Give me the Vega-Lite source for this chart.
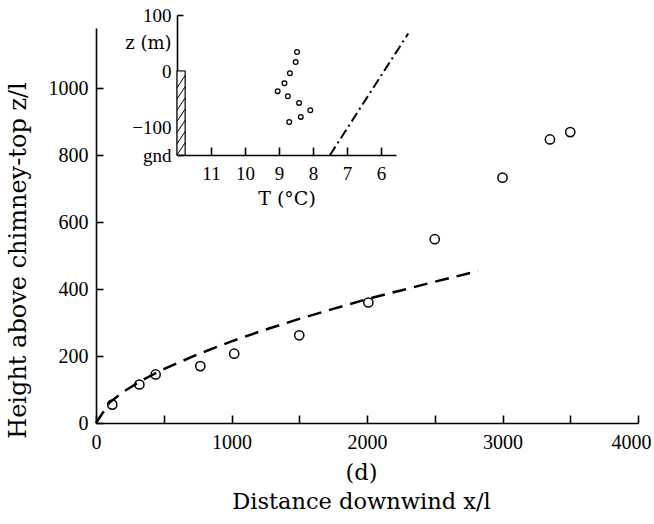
{
  "$schema": "https://vega.github.io/schema/vega-lite/v6.json",
  "width": 542,
  "height": 395,
  "autosize": "none",
  "padding": {"left": 96, "top": 28, "right": 16, "bottom": 101},
  "background": "white",
  "config": {
    "view": {"stroke": null},
    "axis": {
      "grid": false,
      "labelFont": "Liberation Serif",
      "titleFont": "DejaVu Serif",
      "labelColor": "black",
      "titleColor": "black",
      "domainColor": "black",
      "tickColor": "black",
      "titleFontWeight": "normal",
      "domainWidth": 1.6,
      "tickWidth": 1.6
    }
  },
  "datasets": {
    "obs": [
      {"x": 120, "z": 55},
      {"x": 320, "z": 115},
      {"x": 440, "z": 145},
      {"x": 770, "z": 170},
      {"x": 1020, "z": 207},
      {"x": 1500, "z": 262},
      {"x": 2010, "z": 360},
      {"x": 2500, "z": 549},
      {"x": 3000, "z": 733},
      {"x": 3350, "z": 847},
      {"x": 3500, "z": 869}
    ],
    "fit": [
      {"x": 0, "z": 0},
      {"x": 100, "z": 61},
      {"x": 200, "z": 93},
      {"x": 350, "z": 130},
      {"x": 500, "z": 161},
      {"x": 750, "z": 205},
      {"x": 1000, "z": 244},
      {"x": 1250, "z": 279},
      {"x": 1500, "z": 311},
      {"x": 1750, "z": 341},
      {"x": 2000, "z": 370},
      {"x": 2250, "z": 396},
      {"x": 2500, "z": 422},
      {"x": 2820, "z": 454}
    ],
    "profile": [
      {"T": 8.47, "z": 34},
      {"T": 8.51, "z": 16},
      {"T": 8.68, "z": -4},
      {"T": 8.84, "z": -22},
      {"T": 9.04, "z": -36},
      {"T": 8.74, "z": -45},
      {"T": 8.41, "z": -57},
      {"T": 8.08, "z": -70},
      {"T": 8.36, "z": -82},
      {"T": 8.7, "z": -91}
    ],
    "adiabat": [
      {"T": 7.5, "z": -150},
      {"T": 5.2, "z": 67}
    ],
    "chimney": [
      {"T": 12, "T2": 11.76, "z": -150, "z2": 0}
    ],
    "hatch": [
      {"T": 12, "T2": 11.76, "z": -150, "z2": -128},
      {"T": 12, "T2": 11.76, "z": -130, "z2": -108},
      {"T": 12, "T2": 11.76, "z": -110, "z2": -88},
      {"T": 12, "T2": 11.76, "z": -90, "z2": -68},
      {"T": 12, "T2": 11.76, "z": -70, "z2": -48},
      {"T": 12, "T2": 11.76, "z": -50, "z2": -28},
      {"T": 12, "T2": 11.76, "z": -30, "z2": -8}
    ]
  },
  "layer": [
    {
      "layer": [
        {
          "data": {"name": "fit"},
          "mark": {"type": "line", "color": "black", "strokeWidth": 2.5, "strokeDash": [14, 8]},
          "encoding": {
            "x": {"field": "x", "type": "quantitative", "scale": {"domain": [0, 4000], "nice": false, "zero": false}},
            "y": {"field": "z", "type": "quantitative", "scale": {"domain": [0, 1180], "nice": false, "zero": false}}
          }
        },
        {
          "data": {"name": "obs"},
          "mark": {"type": "point", "shape": "circle", "filled": false, "color": "black", "size": 85, "strokeWidth": 1.5, "opacity": 1},
          "encoding": {
            "x": {
              "field": "x", "type": "quantitative",
              "scale": {"domain": [0, 4000], "nice": false, "zero": false},
              "axis": {
                "orient": "bottom",
                "values": [0, 500, 1000, 1500, 2000, 2500, 3000, 3500, 4000],
                "format": "d",
                "labelExpr": "datum.value % 1000 == 0 ? datum.label : ''",
                "labelOffset": {"condition": {"test": "datum.value == 4000", "value": -7}, "value": 0},
                "tickSize": -8,
                "labelPadding": 17,
                "labelFontSize": 20,
                "labelFlush": false,
                "title": ["(d)", "Distance downwind x/l"],
                "titleFontSize": 22.5,
                "titleLineHeight": 29,
                "titleX": 265,
                "titleY": 38,
                "titleAlign": "center",
                "titleBaseline": "top"
              }
            },
            "y": {
              "field": "z", "type": "quantitative",
              "scale": {"domain": [0, 1180], "nice": false, "zero": false},
              "axis": {
                "orient": "left",
                "values": [0, 100, 200, 300, 400, 500, 600, 700, 800, 900, 1000],
                "format": "d",
                "labelExpr": "datum.value % 200 == 0 ? datum.label : ''",
                "tickSize": -7,
                "labelPadding": 15,
                "labelFontSize": 20,
                "labelFlush": false,
                "title": "Height above chimney-top z/l",
                "titleFontSize": 24,
                "titleAngle": -90,
                "titleX": -78,
                "titleY": 232,
                "titleAlign": "center",
                "titleBaseline": "middle"
              }
            }
          }
        }
      ]
    },
    {
      "layer": [
        {
          "data": {"name": "chimney"},
          "mark": {"type": "rect", "fill": "white", "stroke": "black", "strokeWidth": 1.2},
          "encoding": {
            "x": {"field": "T", "type": "quantitative", "scale": {"domain": [12, 5.56], "range": [81, 300], "nice": false, "zero": false}},
            "x2": {"field": "T2"},
            "y": {"field": "z", "type": "quantitative", "scale": {"domain": [-150, 100], "range": [127, -13], "nice": false, "zero": false}},
            "y2": {"field": "z2"}
          }
        },
        {
          "data": {"name": "hatch"},
          "mark": {"type": "rule", "color": "black", "strokeWidth": 1},
          "encoding": {
            "x": {"field": "T", "type": "quantitative"},
            "x2": {"field": "T2"},
            "y": {"field": "z", "type": "quantitative"},
            "y2": {"field": "z2"}
          }
        },
        {
          "data": {"name": "adiabat"},
          "mark": {"type": "line", "color": "black", "strokeWidth": 2, "strokeDash": [10, 4, 2, 4]},
          "encoding": {
            "x": {"field": "T", "type": "quantitative"},
            "y": {"field": "z", "type": "quantitative"}
          }
        },
        {
          "data": {"name": "profile"},
          "mark": {"type": "point", "shape": "circle", "filled": false, "color": "black", "size": 22, "strokeWidth": 1.3, "opacity": 1},
          "encoding": {
            "x": {
              "field": "T", "type": "quantitative",
              "axis": {
                "orient": "bottom",
                "offset": -268,
                "values": [6, 7, 8, 9, 10, 11],
                "format": "d",
                "tickSize": -8,
                "labelPadding": 17,
                "labelFontSize": 19,
                "labelFlush": false,
                "title": "T (°C)",
                "titleFont": "DejaVu Serif",
                "titleFontSize": 19,
                "titlePadding": 6
              }
            },
            "y": {
              "field": "z", "type": "quantitative",
              "axis": {
                "orient": "left",
                "offset": -81,
                "values": [-150, -100, 0, 100],
                "labelExpr": "datum.value == -150 ? 'gnd' : datum.label",
                "tickSize": -6,
                "labelPadding": 12,
                "labelFontSize": 19,
                "labelFlush": false,
                "title": "z (m)",
                "titleFont": "DejaVu Serif",
                "titleFontSize": 18,
                "titleAngle": 0,
                "titleAlign": "right",
                "titleBaseline": "middle",
                "titleX": -6,
                "titleY": 15
              }
            }
          }
        }
      ]
    }
  ],
  "resolve": {
    "scale": {"x": "independent", "y": "independent"},
    "axis": {"x": "independent", "y": "independent"}
  }
}
